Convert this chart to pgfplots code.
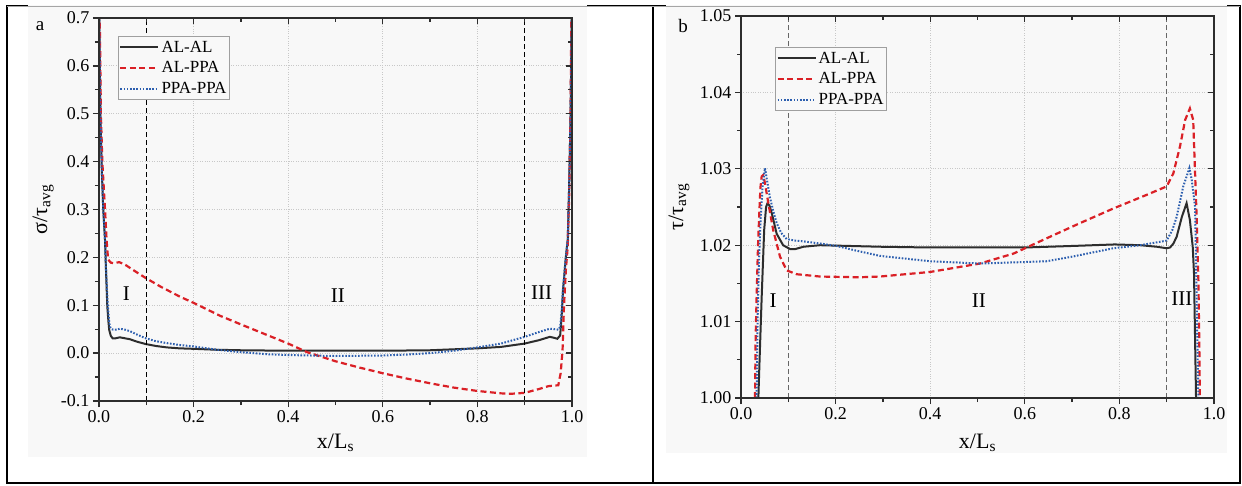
\documentclass[border=0pt]{standalone}
\usepackage{fontspec}
\setmainfont{Liberation Serif}
\usepackage{pgfplots}
\pgfplotsset{compat=1.18}
\definecolor{bg}{RGB}{248,248,248}
\definecolor{myred}{RGB}{218,32,38}
\definecolor{myblue}{RGB}{45,95,175}
\definecolor{myblack}{RGB}{45,45,45}
\definecolor{gridc}{RGB}{200,200,200}

\tikzset{rlab/.style={font=\fontsize{21}{23}\selectfont}}
\pgfplotsset{
  base/.style={
    scale only axis, width=473pt, xmin=0, xmax=1,
    axis line style={line width=1.6pt, color=myblack},
    tick style={line width=1.3pt, color=myblack},
    major tick length=6pt, minor tick length=4pt,
    xtick={0,0.2,0.4,0.6,0.8,1.0},
    minor xtick={0.1,0.3,0.5,0.7,0.9},
    /pgf/number format/assume math mode=true,
    tick label style={font=\fontsize{18}{20}\selectfont},
    xticklabel style={/pgf/number format/fixed,/pgf/number format/fixed zerofill,/pgf/number format/precision=1},
  },
  main/.style={base, tick align=outside, xtick pos=bottom, ytick pos=left,
    grid=major, major grid style={gridc, dotted, line width=0.9pt},
    label style={font=\fontsize{22}{24}\selectfont},
    legend cell align=left,
    legend style={draw=gray!75, line width=0.8pt, fill=bg,
      font=\fontsize{17}{19}\selectfont, inner xsep=1pt, inner ysep=2.5pt, row sep=4pt},
    legend image code/.code={\draw[##1] (0pt,0pt) -- (38pt,0pt);},
  },
  over/.style={base, tick align=inside, xtick pos=top, ytick pos=right,
    xticklabels={}, yticklabels={}},
  lblack/.style={myblack, line width=2pt},
  lred/.style={myred, line width=2.2pt, dash pattern=on 6pt off 3.5pt},
  lblue/.style={myblue, line width=2pt, dash pattern=on 1.6pt off 1.6pt},
  vdash/.style={black, line width=0.9pt, dash pattern=on 5pt off 3pt},
}

\begin{document}
\begin{tikzpicture}
\useasboundingbox (0pt,0pt) rectangle (1242pt,-485pt);
\fill[white] (0pt,0pt) rectangle (1242pt,-485pt);
% table frame
\draw[black, line width=2pt] (7pt,-6pt) rectangle (1240pt,-483pt);
\draw[black, line width=2pt] (653pt,-6pt) -- (653pt,-483pt);
% panel backgrounds
\fill[bg] (28pt,-5pt) rectangle (587pt,-457pt);
\fill[bg] (666pt,-5pt) rectangle (1227pt,-453pt);
\draw[gray!70, line width=0.8pt] (7pt,-6pt) -- (1240pt,-6pt);

% ---------------- panel a ----------------
\begin{axis}[main, at={(99pt,-401pt)}, anchor=south west, height=383pt,
  ymin=-0.1, ymax=0.7,
  ytick={-0.1,0,0.1,0.2,0.3,0.4,0.5,0.6,0.7},
  minor ytick={-0.05,0.05,0.15,0.25,0.35,0.45,0.55,0.65},
  yticklabel style={/pgf/number format/fixed,/pgf/number format/fixed zerofill,/pgf/number format/precision=1},
  xlabel={x/L\textsubscript{s}}, ylabel={σ/τ\textsubscript{avg}},
  xlabel style={at={(axis description cs:0.5,-0.11)}, anchor=center},
  ylabel style={at={(axis description cs:-0.118,0.5)}, anchor=center},
  legend style={at={(axis description cs:0.040,0.953)}, anchor=north west},
]
\addplot[lblack] coordinates {
(0.000,0.75) (0.003,0.50) (0.006,0.38) (0.009,0.30) (0.0127,0.237) (0.015,0.167)
(0.0176,0.097) (0.020,0.065) (0.0217,0.048) (0.025,0.036) (0.0288,0.031) (0.035,0.031)
(0.044,0.033) (0.055,0.031) (0.0655,0.029) (0.08,0.024) (0.0987,0.019) (0.12,0.015)
(0.143,0.012) (0.17,0.010) (0.2,0.009) (0.25,0.007) (0.3,0.006) (0.4,0.005)
(0.5,0.005) (0.6,0.005) (0.7,0.006) (0.75,0.008) (0.8,0.010) (0.85,0.013)
(0.9,0.020) (0.93,0.027) (0.953,0.034) (0.962,0.032) (0.969,0.030) (0.975,0.037)
(0.978,0.076) (0.981,0.131) (0.987,0.201) (0.991,0.237) (0.994,0.35) (0.997,0.50) (1.000,0.75)};
\addlegendentry{AL-AL}
\addplot[lred] coordinates {
(0.001,0.75) (0.004,0.50) (0.007,0.40) (0.0127,0.30) (0.016,0.237) (0.018,0.21)
(0.0197,0.195) (0.025,0.189) (0.030,0.188) (0.037,0.189) (0.043,0.190) (0.050,0.187)
(0.058,0.183) (0.07,0.175) (0.0987,0.157) (0.13,0.139) (0.171,0.118) (0.2,0.105)
(0.256,0.078) (0.3,0.060) (0.35,0.040) (0.4,0.020) (0.44,0.002) (0.5,-0.017)
(0.55,-0.030) (0.6,-0.042) (0.65,-0.053) (0.7,-0.063) (0.75,-0.072) (0.8,-0.079)
(0.85,-0.084) (0.87,-0.085) (0.9,-0.083) (0.93,-0.075) (0.95,-0.069) (0.971,-0.067)
(0.976,-0.042) (0.980,0.006) (0.983,0.097) (0.987,0.174) (0.991,0.223) (0.994,0.33)
(0.997,0.50) (0.999,0.75)};
\addlegendentry{AL-PPA}
\addplot[lblue] coordinates {
(0.000,0.75) (0.003,0.50) (0.006,0.38) (0.009,0.30) (0.0127,0.237) (0.015,0.17)
(0.0185,0.10) (0.0215,0.065) (0.0233,0.055) (0.027,0.050) (0.030,0.049) (0.037,0.049)
(0.044,0.051) (0.055,0.049) (0.065,0.046) (0.08,0.039) (0.0987,0.031) (0.12,0.025)
(0.143,0.021) (0.17,0.017) (0.2,0.014) (0.25,0.007) (0.3,0.002) (0.35,-0.002)
(0.4,-0.004) (0.5,-0.006) (0.6,-0.005) (0.65,-0.003) (0.7,0.000) (0.75,0.005)
(0.8,0.012) (0.85,0.020) (0.9,0.034) (0.93,0.044) (0.953,0.051) (0.965,0.050)
(0.971,0.049) (0.975,0.055) (0.978,0.085) (0.981,0.135) (0.987,0.201) (0.991,0.237)
(0.994,0.35) (0.997,0.50) (1.000,0.75)};
\addlegendentry{PPA-PPA}
\addplot[vdash, forget plot] coordinates {(0.1,-0.1) (0.1,0.7)};
\addplot[vdash, forget plot] coordinates {(0.9,-0.1) (0.9,0.7)};
\node[rlab] at (axis cs:0.058,0.124) {I};
\node[rlab] at (axis cs:0.505,0.12) {II};
\node[rlab] at (axis cs:0.936,0.126) {III};
\end{axis}
\begin{axis}[over, at={(99pt,-401pt)}, anchor=south west, height=383pt,
  ymin=-0.1, ymax=0.7,
  ytick={-0.1,0,0.1,0.2,0.3,0.4,0.5,0.6,0.7},
  minor ytick={-0.05,0.05,0.15,0.25,0.35,0.45,0.55,0.65}]
\end{axis}
\node[font=\fontsize{19}{21}\selectfont] at (40pt,-26pt) {a};

% ---------------- panel b ----------------
\begin{axis}[main, at={(741pt,-398pt)}, anchor=south west, height=382pt,
  ymin=1.0, ymax=1.05,
  ytick={1.00,1.01,1.02,1.03,1.04,1.05},
  minor ytick={1.005,1.015,1.025,1.035,1.045},
  yticklabel style={/pgf/number format/fixed,/pgf/number format/fixed zerofill,/pgf/number format/precision=2},
  xlabel={x/L\textsubscript{s}}, ylabel={τ/τ\textsubscript{avg}},
  xlabel style={at={(axis description cs:0.5,-0.118)}, anchor=center},
  ylabel style={at={(axis description cs:-0.131,0.5)}, anchor=center},
  legend style={at={(axis description cs:0.072,0.919)}, anchor=north west},
]
\addplot[lblack] coordinates {
(0.0367,1.0000) (0.039,1.0045) (0.0437,1.0132) (0.049,1.0220) (0.053,1.0250) (0.056,1.0255)
(0.060,1.0252) (0.065,1.0242) (0.0754,1.0215) (0.089,1.0200) (0.1036,1.0195) (0.115,1.0195)
(0.132,1.0198) (0.167,1.0200) (0.294,1.0198) (0.4,1.0197) (0.5,1.0197) (0.6,1.0197)
(0.7,1.0199) (0.79,1.0201) (0.844,1.0200) (0.879,1.0198) (0.900,1.0196) (0.907,1.0197)
(0.914,1.0202) (0.921,1.0211) (0.932,1.0237) (0.942,1.0255) (0.949,1.0233) (0.955,1.0198)
(0.9577,1.0163) (0.962,1.0000)};
\addlegendentry{AL-AL}
\addplot[lred] coordinates {
(0.0296,1.0000) (0.031,1.008) (0.033,1.0132) (0.036,1.0200) (0.0387,1.0242) (0.041,1.0275)
(0.0437,1.0290) (0.047,1.0292) (0.0507,1.0281) (0.0578,1.0255) (0.068,1.0220) (0.0825,1.0185)
(0.0966,1.0167) (0.118,1.0162) (0.167,1.0159) (0.25,1.0158) (0.294,1.0159) (0.4,1.0165)
(0.505,1.0176) (0.576,1.0189) (0.646,1.0209) (0.717,1.0229) (0.787,1.0248) (0.858,1.0266)
(0.9,1.0277) (0.914,1.0294) (0.928,1.0329) (0.939,1.0364) (0.949,1.0379) (0.956,1.0364)
(0.958,1.0329) (0.963,1.0242) (0.967,1.0154) (0.969,1.0067) (0.970,1.0000)};
\addlegendentry{AL-PPA}
\addplot[lblue] coordinates {
(0.033,1.0000) (0.035,1.010) (0.038,1.018) (0.042,1.024) (0.046,1.028) (0.0507,1.0301)
(0.055,1.0285) (0.061,1.0263) (0.068,1.0245) (0.0754,1.0229) (0.085,1.0216) (0.0966,1.0208)
(0.115,1.0206) (0.132,1.0205) (0.17,1.0202) (0.202,1.0199) (0.25,1.0192) (0.294,1.0186)
(0.4,1.0179) (0.505,1.0176) (0.6,1.0178) (0.646,1.0179) (0.7,1.0185) (0.787,1.0196)
(0.844,1.0200) (0.9,1.0206) (0.912,1.0220) (0.921,1.0237) (0.935,1.0277) (0.948,1.0301)
(0.953,1.0285) (0.96,1.0250) (0.962,1.0176) (0.965,1.0067) (0.967,1.0000)};
\addlegendentry{PPA-PPA}
\addplot[vdash, gray!80!black, line width=1.3pt, forget plot] coordinates {(0.1,1.0) (0.1,1.05)};
\addplot[vdash, gray!80!black, line width=1.3pt, forget plot] coordinates {(0.9,1.0) (0.9,1.05)};
\node[rlab] at (axis cs:0.068,1.0128) {I};
\node[rlab] at (axis cs:0.503,1.0128) {II};
\node[rlab] at (axis cs:0.932,1.013) {III};
\end{axis}
\begin{axis}[over, at={(741pt,-398pt)}, anchor=south west, height=382pt,
  ymin=1.0, ymax=1.05,
  ytick={1.00,1.01,1.02,1.03,1.04,1.05},
  minor ytick={1.005,1.015,1.025,1.035,1.045}]
\end{axis}
\node[font=\fontsize{19}{21}\selectfont] at (683pt,-26pt) {b};
\end{tikzpicture}
\end{document}
